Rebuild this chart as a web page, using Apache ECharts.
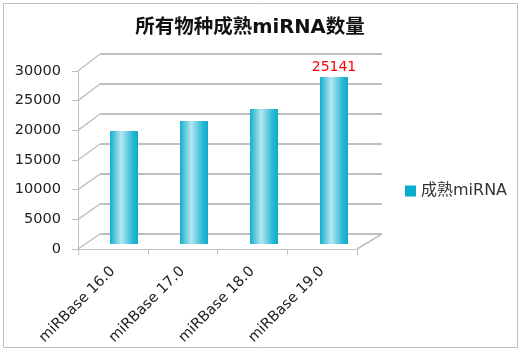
<!DOCTYPE html>
<html>
<head>
<meta charset="utf-8">
<script src="https://cdn.jsdelivr.net/npm/echarts@6/dist/echarts.min.js"></script>
<style>
html,body{margin:0;padding:0;background:#fff;}
#chart{width:522px;height:352px;}
</style>
</head>
<body>
<div id="chart"></div>
<script>
// ---- data ----
const categories = ['miRBase 16.0', 'miRBase 17.0', 'miRBase 18.0', 'miRBase 19.0'];
const seriesName = '成熟miRNA';
const matureCounts = [17010, 18520, 20320, 25141];
const labelShown = [false, false, false, true];
const yTicks = [0, 5000, 10000, 15000, 20000, 25000, 30000];
const chartTitle = '所有物种成熟miRNA数量';

const FONT = '"DejaVu Sans", "Noto Sans CJK SC", sans-serif';
const GRID_C = '#c0c0c0';

const chart = echarts.init(document.getElementById('chart'), null, {renderer: 'canvas'});

const barGrad = new echarts.graphic.LinearGradient(0, 0, 1, 0, [
  {offset: 0, color: '#12afcd'},
  {offset: 0.4, color: '#b6e7f1'},
  {offset: 0.8, color: '#2cb9d5'},
  {offset: 1, color: '#0cabcb'}
]);

const yMin = yTicks[0], yMax = yTicks[yTicks.length - 1], yStep = yTicks[1] - yTicks[0];

const option = {
  animation: false,
  backgroundColor: '#fff',
  title: {
    text: chartTitle,
    left: 245, top: 13, textAlign: 'center',
    textStyle: {fontFamily: FONT, fontSize: 19.5, fontWeight: 'bold', color: '#111'}
  },
  legend: {
    data: [{name: seriesName, itemStyle: {color: '#0aaccc'}}],
    left: 405, top: 183, padding: 0, itemWidth: 11, itemHeight: 11, itemGap: 5,
    icon: 'rect',
    textStyle: {fontFamily: FONT, fontSize: 16, color: '#333'}
  },
  grid: [
    {left: 100, top: 54, width: 282, height: 180},   // back wall
    {left: 78, top: 71, width: 279, height: 178},    // front axes
    {left: 89, top: 44.7, width: 280, height: 199.3} // bars (mid depth)
  ],
  xAxis: [
    {gridIndex: 0, type: 'category', data: categories, show: false},
    {gridIndex: 1, type: 'category', data: categories,
      axisLine: {lineStyle: {color: GRID_C, width: 1}},
      axisTick: {show: true, length: 6, lineStyle: {color: GRID_C}},
      axisLabel: {rotate: 45, margin: 20, fontFamily: FONT, fontSize: 14.5, color: '#222'}
    },
    {gridIndex: 2, type: 'category', data: categories, show: false}
  ],
  yAxis: [
    {gridIndex: 0, type: 'value', min: yMin, max: yMax, interval: yStep,
      axisLine: {show: false}, axisTick: {show: false}, axisLabel: {show: false},
      splitLine: {show: true, lineStyle: {color: GRID_C, width: 2}}
    },
    {gridIndex: 1, type: 'value', min: yMin, max: yMax, interval: yStep,
      axisLine: {show: true, lineStyle: {color: GRID_C, width: 1}},
      axisTick: {show: true, length: 6, lineStyle: {color: GRID_C}},
      axisLabel: {margin: 17, fontFamily: FONT, fontSize: 14.5, color: '#222',
        formatter: v => String(v)},
      splitLine: {show: false}
    },
    {gridIndex: 2, type: 'value', min: yMin, max: yMax, show: false, splitLine: {show: false}}
  ],
  series: [{
    name: seriesName,
    type: 'bar',
    xAxisIndex: 2, yAxisIndex: 2,
    barWidth: 28,
    itemStyle: {color: barGrad},
    data: matureCounts.map((v, i) => ({
      value: v,
      label: {show: labelShown[i], position: 'top', distance: 3,
        fontFamily: FONT, fontSize: 14, color: '#ff0000'}
    }))
  }],
  graphic: [{
    type: 'rect', shape: {x: 3.5, y: 3.5, width: 514, height: 344},
    style: {fill: 'none', stroke: '#c0c0c0', lineWidth: 1}, silent: true
  }]
};
chart.setOption(option);

// 3D wall / floor connector lines computed from the axes
const gm = chart.getModel();
const backRect = gm.getComponent('grid', 0).coordinateSystem.getRect();
const frontRect = gm.getComponent('grid', 1).coordinateSystem.getRect();
const lines = [];
yTicks.forEach(v => {
  const yb = chart.convertToPixel({yAxisIndex: 0}, v);
  const yf = chart.convertToPixel({yAxisIndex: 1}, v);
  lines.push({type: 'line', silent: true, z: 1,
    shape: {x1: frontRect.x, y1: yf, x2: backRect.x, y2: yb},
    style: {stroke: GRID_C, lineWidth: 1.5}});
});
const yb0 = chart.convertToPixel({yAxisIndex: 0}, yMin);
const yf0 = chart.convertToPixel({yAxisIndex: 1}, yMin);
lines.push({type: 'line', silent: true, z: 1,
  shape: {x1: frontRect.x + frontRect.width, y1: yf0, x2: backRect.x + backRect.width, y2: yb0},
  style: {stroke: GRID_C, lineWidth: 1.5}});
chart.setOption({graphic: option.graphic.concat(lines)});
</script>
</body>
</html>
